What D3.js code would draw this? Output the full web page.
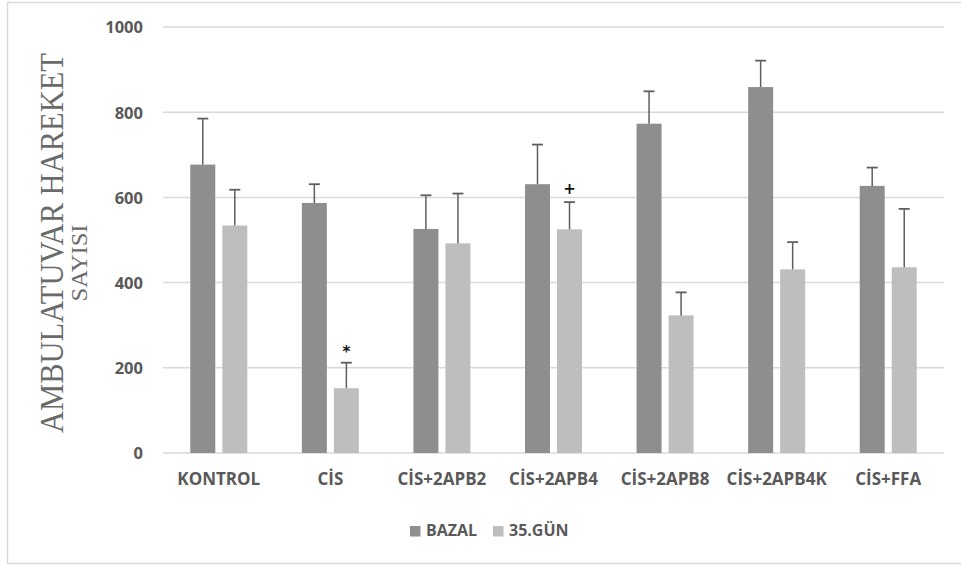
<!DOCTYPE html>
<html>
<head>
<meta charset="utf-8">
<script src="https://cdn.jsdelivr.net/npm/d3@7"></script>
<style>
  html, body { margin: 0; padding: 0; background: #fff; }
  svg { display: block; }
  .tick text, .lbl { font-family: "Open Sans", sans-serif; font-weight: 700; fill: #595959; }
</style>
</head>
<body>
<svg id="chart" width="961" height="566"></svg>
<script>
// ---- data ----
const categories = ["KONTROL", "CİS", "CİS+2APB2", "CİS+2APB4", "CİS+2APB8", "CİS+2APB4K", "CİS+FFA"];
const seriesNames = ["BAZAL", "35.GÜN"];
const bazal      = [677, 587, 526, 631, 773, 859, 627];
const bazalErr   = [108,  44,  79,  93,  76,  62,  43];
const gun35      = [534, 152, 492, 525, 323, 431, 436];
const gun35Err   = [ 84,  60, 117,  64,  54,  64, 137];
const yTicks     = [0, 200, 400, 600, 800, 1000];
const annotations = [
  { category: "CİS", series: "35.GÜN", text: "*" },
  { category: "CİS+2APB4", series: "35.GÜN", text: "+" }
];
const yTitleLines = ["AMBULATUVAR HAREKET", "SAYISI"];

const colors = { "BAZAL": "#8e8e8e", "35.GÜN": "#bebebe" };

const rows = categories.map((c, i) => ({
  category: c,
  values: [
    { series: "BAZAL", value: bazal[i], err: bazalErr[i] },
    { series: "35.GÜN", value: gun35[i], err: gun35Err[i] }
  ]
}));

// ---- layout ----
const svg = d3.select("#chart");
const plotLeft = 163, plotRight = 944, plotTop = 27, plotBottom = 453;

svg.append("rect")
  .attr("x", 7.5).attr("y", 2.5).attr("width", 980).attr("height", 561)
  .attr("fill", "none").attr("stroke", "#d9d9d9").attr("stroke-width", 1.5);

const x0 = d3.scaleBand().domain(categories).range([plotLeft, plotRight]).padding(0);
const groupW = 57;
const x1 = d3.scaleBand().domain(seriesNames).range([0, groupW]).paddingInner(0.22);
const y = d3.scaleLinear().domain([0, 1000]).range([plotBottom, plotTop]);

// gridlines
svg.append("g").selectAll("line").data(yTicks).join("line")
  .attr("x1", plotLeft).attr("x2", plotRight)
  .attr("y1", d => y(d)).attr("y2", d => y(d))
  .attr("stroke", "#d9d9d9").attr("stroke-width", 1.5);

// y axis
const yAxis = svg.append("g").attr("transform", `translate(${plotLeft},0)`)
  .call(d3.axisLeft(y).tickValues(yTicks).tickSize(0).tickPadding(20).tickFormat(d3.format("d")));
yAxis.select(".domain").remove();
yAxis.selectAll("text").style("font-size", "16.5px").attr("dy", "0.36em");

// x axis labels
const xAxis = svg.append("g").attr("transform", `translate(0,${plotBottom})`)
  .call(d3.axisBottom(x0).tickSize(0).tickPadding(24));
xAxis.select(".domain").remove();
xAxis.selectAll("text").style("font-size", "17px").attr("dy", "0.45em");

const groupX = c => x0(c) + x0.bandwidth() / 2 - groupW / 2;

// bars
const groups = svg.append("g").selectAll("g").data(rows).join("g")
  .attr("transform", d => `translate(${groupX(d.category)},0)`);

groups.selectAll("rect").data(d => d.values).join("rect")
  .attr("x", d => x1(d.series))
  .attr("width", x1.bandwidth())
  .attr("y", d => y(d.value))
  .attr("height", d => y(0) - y(d.value))
  .attr("fill", d => colors[d.series]);

// error bars
const eb = groups.selectAll("g.err").data(d => d.values).join("g").attr("class", "err");
eb.append("line")
  .attr("x1", d => x1(d.series) + x1.bandwidth() / 2)
  .attr("x2", d => x1(d.series) + x1.bandwidth() / 2)
  .attr("y1", d => y(d.value))
  .attr("y2", d => y(d.value + d.err))
  .attr("stroke", "#5f5f5f").attr("stroke-width", 1.5);
eb.append("line")
  .attr("x1", d => x1(d.series) + x1.bandwidth() / 2 - 5.5)
  .attr("x2", d => x1(d.series) + x1.bandwidth() / 2 + 5.5)
  .attr("y1", d => y(d.value + d.err))
  .attr("y2", d => y(d.value + d.err))
  .attr("stroke", "#5f5f5f").attr("stroke-width", 1.8);

// annotations
svg.append("g").selectAll("text").data(annotations).join("text")
  .attr("x", d => groupX(d.category) + x1(d.series) + x1.bandwidth() / 2)
  .attr("y", d => {
    const i = categories.indexOf(d.category);
    const v = d.series === "BAZAL" ? bazal[i] + bazalErr[i] : gun35[i] + gun35Err[i];
    return y(v) - (d.text === "*" ? 6 : 8);
  })
  .attr("text-anchor", "middle")
  .style("font-family", "'DejaVu Sans', sans-serif")
  .style("font-weight", "700")
  .style("font-size", "15px")
  .attr("fill", "#111")
  .text(d => d.text);

// y title
const yt = svg.append("g").attr("transform", "rotate(-90)");
yt.append("text")
  .attr("x", -243).attr("y", 63)
  .attr("text-anchor", "middle")
  .attr("textLength", 380).attr("lengthAdjust", "spacingAndGlyphs")
  .style("font-family", "'Liberation Serif', serif")
  .style("font-size", "33px")
  .attr("fill", "#6a6a6a")
  .text(yTitleLines[0]);
yt.append("text")
  .attr("x", -263).attr("y", 87)
  .attr("text-anchor", "middle")
  .attr("textLength", 77).attr("lengthAdjust", "spacingAndGlyphs")
  .style("font-family", "'Liberation Serif', serif")
  .style("font-size", "23px")
  .attr("fill", "#6a6a6a")
  .text(yTitleLines[1]);

// legend
const legendX = [410, 493];
const legend = svg.append("g").selectAll("g").data(seriesNames).join("g")
  .attr("transform", (d, i) => `translate(${legendX[i]},526)`);
legend.append("rect").attr("width", 10.5).attr("height", 10.5).attr("fill", d => colors[d]);
legend.append("text").attr("class", "lbl")
  .attr("x", 16).attr("y", 10)
  .style("font-size", "16px")
  .text(d => d);
</script>
</body>
</html>
